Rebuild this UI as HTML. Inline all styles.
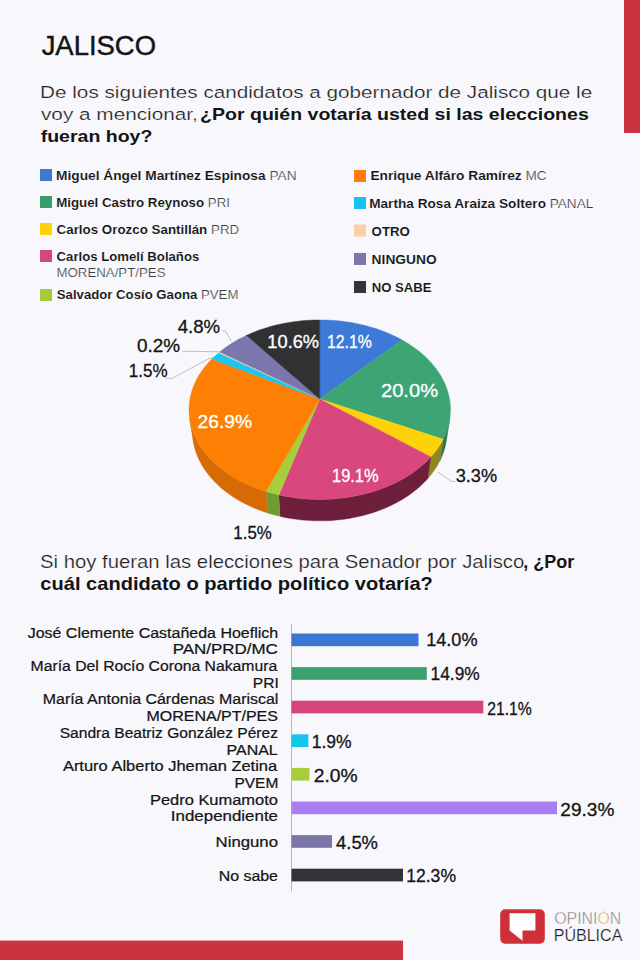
<!DOCTYPE html>
<html><head><meta charset="utf-8"><style>
html,body{margin:0;padding:0;background:#f8f8fc;}
svg{display:block;font-family:"Liberation Sans",sans-serif;}
</style></head><body>
<svg width="640" height="960" viewBox="0 0 640 960">
<rect x="0" y="0" width="640" height="960" fill="#f8f8fc"/>
<rect x="624" y="0" width="16" height="133" fill="#cc3340"/>
<rect x="0" y="940.6" width="403" height="19.4" fill="#cc3340"/>
<rect x="40" y="169" width="12" height="12" fill="#3d78d4"/>
<rect x="40" y="196" width="12" height="12" fill="#3a9d6e"/>
<rect x="40" y="223" width="12" height="12" fill="#fdd10c"/>
<rect x="40" y="250" width="12" height="12" fill="#d6477b"/>
<rect x="40" y="289" width="12" height="12" fill="#a5cb3b"/>
<rect x="354" y="170" width="12" height="12" fill="#fb7c10"/>
<rect x="354" y="197" width="12" height="12" fill="#17c4ee"/>
<rect x="354" y="224.5" width="12" height="12" fill="#fcd0a6"/>
<rect x="354" y="253" width="12" height="12" fill="#7c78ae"/>
<rect x="354" y="281" width="12" height="12" fill="#343436"/>
<path d="M449.72,419.23 L449.27,421.75 L448.72,424.26 L448.07,426.77 L447.31,429.27 L446.44,431.76 L445.46,434.25 L444.38,436.72 L443.19,439.18 L439.92,460.73 L441.08,458.27 L442.15,455.80 L443.11,453.31 L443.96,450.82 L444.72,448.31 L445.36,445.80 L445.91,443.28 L446.35,440.77Z" fill="#2b7350" stroke="#2b7350" stroke-width="0.4"/>
<path d="M443.19,439.18 L441.80,441.80 L440.28,444.39 L438.64,446.96 L436.88,449.50 L434.99,452.01 L432.99,454.49 L430.86,456.93 L427.85,478.48 L429.93,476.04 L431.89,473.57 L433.73,471.06 L435.45,468.52 L437.06,465.95 L438.55,463.35 L439.92,460.73Z" fill="#8f861c" stroke="#8f861c" stroke-width="0.4"/>
<path d="M430.86,456.93 L428.85,459.09 L426.74,461.22 L424.54,463.31 L422.24,465.36 L419.86,467.37 L417.38,469.33 L414.82,471.25 L412.17,473.13 L409.43,474.95 L406.61,476.72 L403.72,478.44 L400.74,480.10 L397.69,481.71 L394.56,483.25 L391.37,484.74 L388.10,486.16 L384.77,487.51 L381.38,488.80 L377.92,490.03 L374.42,491.18 L370.85,492.26 L367.24,493.27 L363.58,494.21 L359.88,495.07 L356.14,495.86 L352.36,496.57 L348.55,497.20 L344.71,497.75 L340.85,498.23 L336.97,498.62 L333.06,498.94 L329.15,499.17 L325.22,499.33 L321.29,499.40 L317.36,499.39 L313.43,499.30 L309.51,499.13 L305.60,498.88 L301.70,498.55 L297.82,498.14 L293.96,497.65 L290.13,497.08 L286.32,496.43 L282.55,495.70 L278.82,494.90 L279.98,516.37 L283.61,517.17 L287.27,517.89 L290.97,518.54 L294.69,519.11 L298.44,519.60 L302.21,520.01 L306.00,520.34 L309.80,520.59 L313.61,520.76 L317.43,520.85 L321.25,520.85 L325.07,520.78 L328.88,520.63 L332.68,520.39 L336.47,520.08 L340.25,519.69 L344.00,519.21 L347.73,518.66 L351.43,518.03 L355.10,517.32 L358.74,516.54 L362.34,515.68 L365.90,514.75 L369.41,513.74 L372.87,512.66 L376.28,511.51 L379.64,510.29 L382.94,509.01 L386.18,507.65 L389.36,506.24 L392.47,504.76 L395.51,503.21 L398.48,501.61 L401.38,499.95 L404.20,498.24 L406.95,496.47 L409.61,494.65 L412.20,492.78 L414.70,490.87 L417.11,488.90 L419.44,486.90 L421.68,484.85 L423.83,482.76 L425.88,480.64 L427.85,478.48Z" fill="#6e1f3c" stroke="#6e1f3c" stroke-width="0.4"/>
<path d="M278.82,494.90 L274.47,493.86 L270.19,492.72 L265.97,491.47 L267.49,512.95 L271.59,514.19 L275.76,515.33 L279.98,516.37Z" fill="#6d9e2d" stroke="#6d9e2d" stroke-width="0.4"/>
<path d="M265.97,491.47 L262.42,490.32 L258.92,489.11 L255.48,487.82 L252.11,486.47 L248.80,485.05 L245.56,483.57 L242.39,482.02 L239.30,480.41 L236.28,478.75 L233.34,477.02 L230.48,475.24 L227.71,473.41 L225.02,471.53 L222.42,469.60 L219.91,467.62 L217.50,465.60 L215.17,463.54 L212.94,461.43 L210.80,459.29 L208.76,457.11 L206.82,454.90 L204.98,452.66 L203.23,450.39 L201.59,448.09 L200.04,445.77 L198.60,443.42 L197.26,441.06 L196.02,438.68 L194.88,436.28 L193.84,433.87 L192.91,431.45 L192.07,429.01 L191.34,426.58 L190.71,424.13 L190.18,421.68 L189.74,419.23 L193.11,440.77 L193.54,443.22 L194.06,445.67 L194.69,448.12 L195.41,450.56 L196.24,452.99 L197.16,455.42 L198.18,457.83 L199.30,460.23 L200.51,462.61 L201.83,464.98 L203.24,467.32 L204.75,469.64 L206.36,471.94 L208.07,474.21 L209.87,476.45 L211.77,478.66 L213.76,480.84 L215.85,482.98 L218.03,485.08 L220.30,487.14 L222.66,489.16 L225.10,491.13 L227.64,493.06 L230.26,494.94 L232.96,496.77 L235.74,498.54 L238.60,500.26 L241.54,501.92 L244.55,503.53 L247.63,505.07 L250.79,506.55 L254.01,507.96 L257.29,509.31 L260.63,510.60 L264.03,511.81 L267.49,512.95Z" fill="#d86a06" stroke="#d86a06" stroke-width="0.4"/>
<path d="M319.73,398.94 L319.73,319.94 L322.77,319.96 L325.81,320.03 L328.84,320.15 L331.87,320.32 L334.90,320.54 L337.91,320.81 L340.92,321.12 L343.92,321.49 L346.91,321.90 L349.88,322.36 L352.85,322.86 L355.79,323.42 L358.72,324.02 L361.63,324.67 L364.52,325.37 L367.38,326.11 L370.23,326.90 L373.05,327.74 L375.84,328.62 L378.61,329.55 L381.35,330.53 L384.06,331.55 L386.73,332.62 L389.38,333.73 L391.98,334.89 L394.56,336.09 L397.09,337.33 L399.58,338.62 L402.04,339.96Z" fill="#3d79d6" stroke="#3d79d6" stroke-width="0.4"/>
<path d="M319.73,398.94 L402.04,339.96 L404.45,341.33 L406.81,342.74 L409.13,344.20 L411.40,345.70 L413.63,347.23 L415.80,348.81 L417.92,350.43 L419.99,352.09 L422.01,353.78 L423.96,355.51 L425.87,357.28 L427.71,359.09 L429.49,360.93 L431.21,362.80 L432.87,364.71 L434.46,366.65 L435.98,368.62 L437.44,370.63 L438.82,372.66 L440.14,374.73 L441.38,376.82 L442.55,378.94 L443.65,381.08 L444.67,383.25 L445.61,385.45 L446.47,387.66 L447.25,389.90 L447.95,392.16 L448.56,394.43 L449.09,396.72 L449.54,399.03 L449.90,401.36 L450.17,403.69 L450.35,406.04 L450.45,408.40 L450.45,410.76 L450.36,413.14 L450.18,415.51 L449.91,417.89 L449.54,420.28 L449.08,422.66 L448.53,425.04 L447.88,427.42 L447.13,429.79 L446.29,432.15 L445.35,434.51 L444.32,436.85 L443.19,439.18Z" fill="#3ca573" stroke="#3ca573" stroke-width="0.4"/>
<path d="M319.73,398.94 L443.19,439.18 L441.80,441.80 L440.28,444.39 L438.64,446.96 L436.88,449.50 L434.99,452.01 L432.99,454.49 L430.86,456.93Z" fill="#fdd20a" stroke="#fdd20a" stroke-width="0.4"/>
<path d="M319.73,398.94 L430.86,456.93 L428.85,459.09 L426.74,461.22 L424.54,463.31 L422.24,465.36 L419.86,467.37 L417.38,469.33 L414.82,471.25 L412.17,473.13 L409.43,474.95 L406.61,476.72 L403.72,478.44 L400.74,480.10 L397.69,481.71 L394.56,483.25 L391.37,484.74 L388.10,486.16 L384.77,487.51 L381.38,488.80 L377.92,490.03 L374.42,491.18 L370.85,492.26 L367.24,493.27 L363.58,494.21 L359.88,495.07 L356.14,495.86 L352.36,496.57 L348.55,497.20 L344.71,497.75 L340.85,498.23 L336.97,498.62 L333.06,498.94 L329.15,499.17 L325.22,499.33 L321.29,499.40 L317.36,499.39 L313.43,499.30 L309.51,499.13 L305.60,498.88 L301.70,498.55 L297.82,498.14 L293.96,497.65 L290.13,497.08 L286.32,496.43 L282.55,495.70 L278.82,494.90Z" fill="#d9487c" stroke="#d9487c" stroke-width="0.4"/>
<path d="M319.73,398.94 L278.82,494.90 L274.47,493.86 L270.19,492.72 L265.97,491.47Z" fill="#a5cf3c" stroke="#a5cf3c" stroke-width="0.4"/>
<path d="M319.73,398.94 L265.97,491.47 L262.48,490.35 L259.05,489.16 L255.67,487.90 L252.35,486.57 L249.10,485.18 L245.91,483.73 L242.80,482.22 L239.75,480.65 L236.77,479.03 L233.88,477.35 L231.06,475.61 L228.32,473.82 L225.66,471.99 L223.09,470.10 L220.60,468.17 L218.20,466.20 L215.89,464.19 L213.67,462.14 L211.54,460.04 L209.50,457.92 L207.56,455.76 L205.71,453.57 L203.96,451.36 L202.30,449.11 L200.74,446.84 L199.28,444.55 L197.91,442.24 L196.64,439.91 L195.47,437.56 L194.40,435.20 L193.43,432.83 L192.55,430.45 L191.77,428.06 L191.09,425.66 L190.51,423.26 L190.02,420.86 L189.63,418.46 L189.33,416.05 L189.13,413.66 L189.02,411.26 L189.00,408.87 L189.08,406.49 L189.25,404.12 L189.51,401.76 L189.86,399.42 L190.29,397.09 L190.81,394.77 L191.42,392.47 L192.12,390.19 L192.89,387.93 L193.75,385.70 L194.69,383.48 L195.71,381.29 L196.81,379.12 L197.98,376.98 L199.23,374.87 L200.55,372.79 L201.95,370.73 L203.41,368.71 L204.95,366.72 L206.55,364.76 L208.22,362.83 L209.95,360.94 L211.75,359.09Z" fill="#fd8005" stroke="#fd8005" stroke-width="0.4"/>
<path d="M319.73,398.94 L211.75,359.09 L213.97,356.92 L216.27,354.81 L218.66,352.76Z" fill="#1cc6ee" stroke="#1cc6ee" stroke-width="0.4"/>
<path d="M319.73,398.94 L218.66,352.76 L219.63,351.95Z" fill="#fdd3ad" stroke="#fdd3ad" stroke-width="0.4"/>
<path d="M319.73,398.94 L219.63,351.95 L221.81,350.22 L224.04,348.53 L226.32,346.89 L228.67,345.29 L231.06,343.73 L233.50,342.22 L236.00,340.76 L238.54,339.34 L241.13,337.97 L243.76,336.65 L246.43,335.37Z" fill="#7977ab" stroke="#7977ab" stroke-width="0.4"/>
<path d="M319.73,398.94 L246.43,335.37 L249.07,334.18 L251.74,333.03 L254.45,331.93 L257.19,330.87 L259.96,329.87 L262.76,328.91 L265.59,327.99 L268.45,327.13 L271.34,326.31 L274.24,325.54 L277.18,324.82 L280.13,324.15 L283.10,323.53 L286.09,322.96 L289.09,322.44 L292.12,321.96 L295.15,321.54 L298.20,321.16 L301.25,320.84 L304.32,320.56 L307.39,320.34 L310.47,320.16 L313.56,320.04 L316.64,319.96 L319.73,319.94Z" fill="#313134" stroke="#313134" stroke-width="0.4"/>
<g fill="none" stroke="#b8b8b8" stroke-width="0.9"><polyline points="222.5,331 225.5,331 231.5,341.5"/><polyline points="182.3,351.2 219.5,351.8"/><polyline points="165,378 172,378.5 208,359 213,357.5"/><polyline points="438,472 451.25,481.4 455,481.4"/></g>
<rect x="291" y="623.75" width="1" height="267.5" fill="#b8b8b8"/>
<rect x="291.5" y="633.50" width="127.00" height="12.7" fill="#3b76d2"/>
<rect x="291.5" y="667.10" width="135.30" height="12.7" fill="#3aa06e"/>
<rect x="291.5" y="700.70" width="191.80" height="12.7" fill="#d6457a"/>
<rect x="291.5" y="734.30" width="16.90" height="12.7" fill="#15c6ec"/>
<rect x="291.5" y="767.90" width="18.00" height="12.7" fill="#a8cc3c"/>
<rect x="291.5" y="801.50" width="265.50" height="12.7" fill="#a87ef0"/>
<rect x="291.5" y="835.10" width="40.50" height="12.7" fill="#7a77a8"/>
<rect x="291.5" y="868.70" width="111.50" height="12.7" fill="#333336"/>
<rect x="500.2" y="909.3" width="44.6" height="34.4" rx="5" fill="#cf2f36"/>
<path d="M509.6,913.2 L535.4,913.2 L535.4,930.4 L522.5,930.4 L522.5,940.7 L509.6,930.4 Z" fill="#ffffff"/>
<text x="41.67" y="54.80" font-size="27.02" font-weight="normal" fill="#141414" stroke="#141414" stroke-width="0.45" textLength="114.32" lengthAdjust="spacingAndGlyphs" xml:space="preserve">JALISCO</text>
<text x="40.08" y="97.50" font-size="17.07" font-weight="normal" fill="#1c1c1c" stroke="#f8f8fc" stroke-width="0.22" textLength="552.16" lengthAdjust="spacingAndGlyphs" xml:space="preserve">De los siguientes candidatos a gobernador de Jalisco que le</text>
<text x="41.00" y="120.00" font-size="17.07" font-weight="normal" fill="#1c1c1c" stroke="#f8f8fc" stroke-width="0.22" textLength="156.85" lengthAdjust="spacingAndGlyphs" xml:space="preserve">voy a mencionar,</text>
<text x="200.08" y="120.00" font-size="17.07" font-weight="bold" fill="#141414" textLength="388.71" lengthAdjust="spacingAndGlyphs" xml:space="preserve">¿Por quién votaría usted si las elecciones</text>
<text x="40.70" y="141.60" font-size="17.07" font-weight="bold" fill="#141414" textLength="111.65" lengthAdjust="spacingAndGlyphs" xml:space="preserve">fueran hoy?</text>
<text x="56.14" y="180.00" font-size="12.66" font-weight="bold" fill="#141414" stroke="#f8f8fc" stroke-width="0.1" textLength="209.49" lengthAdjust="spacingAndGlyphs" xml:space="preserve">Miguel Ángel Martínez Espinosa</text>
<text x="265.64" y="180.00" font-size="12.66" font-weight="normal" fill="#3c3c3c" stroke="#f8f8fc" stroke-width="0.2" textLength="30.98" lengthAdjust="spacingAndGlyphs" xml:space="preserve"> PAN</text>
<text x="56.17" y="207.00" font-size="12.66" font-weight="bold" fill="#141414" stroke="#f8f8fc" stroke-width="0.1" textLength="147.90" lengthAdjust="spacingAndGlyphs" xml:space="preserve">Miguel Castro Reynoso</text>
<text x="204.07" y="207.00" font-size="12.66" font-weight="normal" fill="#3c3c3c" stroke="#f8f8fc" stroke-width="0.2" textLength="25.88" lengthAdjust="spacingAndGlyphs" xml:space="preserve"> PRI</text>
<text x="56.58" y="234.00" font-size="12.66" font-weight="bold" fill="#141414" stroke="#f8f8fc" stroke-width="0.1" textLength="150.71" lengthAdjust="spacingAndGlyphs" xml:space="preserve">Carlos Orozco Santillán</text>
<text x="207.29" y="234.00" font-size="12.66" font-weight="normal" fill="#3c3c3c" stroke="#f8f8fc" stroke-width="0.2" textLength="31.92" lengthAdjust="spacingAndGlyphs" xml:space="preserve"> PRD</text>
<text x="56.59" y="260.75" font-size="12.66" font-weight="bold" fill="#141414" stroke="#f8f8fc" stroke-width="0.1" textLength="142.70" lengthAdjust="spacingAndGlyphs" xml:space="preserve">Carlos Lomelí Bolaños</text>
<text x="56.46" y="276.75" font-size="12.66" font-weight="normal" fill="#3c3c3c" stroke="#f8f8fc" stroke-width="0.2" textLength="109.09" lengthAdjust="spacingAndGlyphs" xml:space="preserve">MORENA/PT/PES</text>
<text x="56.79" y="298.75" font-size="12.66" font-weight="bold" fill="#141414" stroke="#f8f8fc" stroke-width="0.1" textLength="140.59" lengthAdjust="spacingAndGlyphs" xml:space="preserve">Salvador Cosío Gaona</text>
<text x="197.38" y="298.75" font-size="12.66" font-weight="normal" fill="#3c3c3c" stroke="#f8f8fc" stroke-width="0.2" textLength="41.00" lengthAdjust="spacingAndGlyphs" xml:space="preserve"> PVEM</text>
<text x="370.40" y="180.00" font-size="12.66" font-weight="bold" fill="#141414" stroke="#f8f8fc" stroke-width="0.1" textLength="151.26" lengthAdjust="spacingAndGlyphs" xml:space="preserve">Enrique Alfáro Ramírez</text>
<text x="521.65" y="180.00" font-size="12.66" font-weight="normal" fill="#3c3c3c" stroke="#f8f8fc" stroke-width="0.2" textLength="25.07" lengthAdjust="spacingAndGlyphs" xml:space="preserve"> MC</text>
<text x="369.15" y="207.50" font-size="12.66" font-weight="bold" fill="#141414" stroke="#f8f8fc" stroke-width="0.1" textLength="176.83" lengthAdjust="spacingAndGlyphs" xml:space="preserve">Martha Rosa Araiza Soltero</text>
<text x="545.98" y="207.50" font-size="12.66" font-weight="normal" fill="#3c3c3c" stroke="#f8f8fc" stroke-width="0.2" textLength="47.36" lengthAdjust="spacingAndGlyphs" xml:space="preserve"> PANAL</text>
<text x="371.59" y="236.00" font-size="12.66" font-weight="bold" fill="#141414" stroke="#f8f8fc" stroke-width="0.1" textLength="38.28" lengthAdjust="spacingAndGlyphs" xml:space="preserve">OTRO</text>
<text x="371.64" y="263.75" font-size="12.66" font-weight="bold" fill="#141414" stroke="#f8f8fc" stroke-width="0.1" textLength="64.99" lengthAdjust="spacingAndGlyphs" xml:space="preserve">NINGUNO</text>
<text x="371.68" y="291.75" font-size="12.66" font-weight="bold" fill="#141414" stroke="#f8f8fc" stroke-width="0.1" textLength="59.92" lengthAdjust="spacingAndGlyphs" xml:space="preserve">NO SABE</text>
<text x="177.71" y="333.00" font-size="17.49" font-weight="normal" fill="#141414" stroke="#141414" stroke-width="0.3" textLength="42.34" lengthAdjust="spacingAndGlyphs" xml:space="preserve">4.8%</text>
<text x="136.91" y="351.60" font-size="17.49" font-weight="normal" fill="#141414" stroke="#141414" stroke-width="0.3" textLength="43.16" lengthAdjust="spacingAndGlyphs" xml:space="preserve">0.2%</text>
<text x="128.74" y="376.70" font-size="17.49" font-weight="normal" fill="#141414" stroke="#141414" stroke-width="0.3" textLength="38.77" lengthAdjust="spacingAndGlyphs" xml:space="preserve">1.5%</text>
<text x="455.68" y="481.90" font-size="17.49" font-weight="normal" fill="#141414" stroke="#141414" stroke-width="0.3" textLength="41.46" lengthAdjust="spacingAndGlyphs" xml:space="preserve">3.3%</text>
<text x="233.35" y="538.50" font-size="17.49" font-weight="normal" fill="#141414" stroke="#141414" stroke-width="0.3" textLength="38.40" lengthAdjust="spacingAndGlyphs" xml:space="preserve">1.5%</text>
<text x="267.36" y="348.40" font-size="17.49" font-weight="normal" fill="#ffffff" stroke="#ffffff" stroke-width="0.3" textLength="51.68" lengthAdjust="spacingAndGlyphs" xml:space="preserve">10.6%</text>
<text x="327.01" y="348.40" font-size="17.49" font-weight="normal" fill="#ffffff" stroke="#ffffff" stroke-width="0.3" textLength="44.76" lengthAdjust="spacingAndGlyphs" xml:space="preserve">12.1%</text>
<text x="380.96" y="396.90" font-size="17.49" font-weight="normal" fill="#ffffff" stroke="#ffffff" stroke-width="0.3" textLength="57.14" lengthAdjust="spacingAndGlyphs" xml:space="preserve">20.0%</text>
<text x="197.60" y="427.50" font-size="17.49" font-weight="normal" fill="#ffffff" stroke="#ffffff" stroke-width="0.3" textLength="54.47" lengthAdjust="spacingAndGlyphs" xml:space="preserve">26.9%</text>
<text x="332.07" y="481.50" font-size="17.49" font-weight="normal" fill="#ffffff" stroke="#ffffff" stroke-width="0.3" textLength="46.51" lengthAdjust="spacingAndGlyphs" xml:space="preserve">19.1%</text>
<text x="39.97" y="567.80" font-size="17.49" font-weight="normal" fill="#1c1c1c" stroke="#f8f8fc" stroke-width="0.22" textLength="484.26" lengthAdjust="spacingAndGlyphs" xml:space="preserve">Si hoy fueran las elecciones para Senador por Jalisco</text>
<text x="523.38" y="567.80" font-size="17.49" font-weight="bold" fill="#141414" textLength="50.88" lengthAdjust="spacingAndGlyphs" xml:space="preserve">, ¿Por</text>
<text x="40.37" y="589.90" font-size="17.49" font-weight="bold" fill="#141414" textLength="392.50" lengthAdjust="spacingAndGlyphs" xml:space="preserve">cuál candidato o partido político votaría?</text>
<text x="27.65" y="637.50" font-size="13.94" font-weight="normal" fill="#141414" stroke="#141414" stroke-width="0.22" textLength="250.55" lengthAdjust="spacingAndGlyphs" xml:space="preserve">José Clemente Castañeda Hoeflich</text>
<text x="172.68" y="654.22" font-size="13.94" font-weight="normal" fill="#141414" stroke="#141414" stroke-width="0.22" textLength="105.21" lengthAdjust="spacingAndGlyphs" xml:space="preserve">PAN/PRD/MC</text>
<text x="30.57" y="670.94" font-size="13.94" font-weight="normal" fill="#141414" stroke="#141414" stroke-width="0.22" textLength="246.63" lengthAdjust="spacingAndGlyphs" xml:space="preserve">María Del Rocío Corona Nakamura</text>
<text x="252.79" y="687.66" font-size="13.94" font-weight="normal" fill="#141414" stroke="#141414" stroke-width="0.22" textLength="25.92" lengthAdjust="spacingAndGlyphs" xml:space="preserve">PRI</text>
<text x="42.76" y="704.38" font-size="13.94" font-weight="normal" fill="#141414" stroke="#141414" stroke-width="0.22" textLength="235.59" lengthAdjust="spacingAndGlyphs" xml:space="preserve">María Antonia Cárdenas Mariscal</text>
<text x="146.45" y="721.10" font-size="13.94" font-weight="normal" fill="#141414" stroke="#141414" stroke-width="0.22" textLength="131.52" lengthAdjust="spacingAndGlyphs" xml:space="preserve">MORENA/PT/PES</text>
<text x="59.71" y="737.82" font-size="13.94" font-weight="normal" fill="#141414" stroke="#141414" stroke-width="0.22" textLength="218.32" lengthAdjust="spacingAndGlyphs" xml:space="preserve">Sandra Beatriz González Pérez</text>
<text x="226.55" y="754.54" font-size="13.94" font-weight="normal" fill="#141414" stroke="#141414" stroke-width="0.22" textLength="51.14" lengthAdjust="spacingAndGlyphs" xml:space="preserve">PANAL</text>
<text x="62.90" y="771.26" font-size="13.94" font-weight="normal" fill="#141414" stroke="#141414" stroke-width="0.22" textLength="214.30" lengthAdjust="spacingAndGlyphs" xml:space="preserve">Arturo Alberto Jheman Zetina</text>
<text x="234.49" y="787.98" font-size="13.94" font-weight="normal" fill="#141414" stroke="#141414" stroke-width="0.22" textLength="43.85" lengthAdjust="spacingAndGlyphs" xml:space="preserve">PVEM</text>
<text x="149.91" y="804.70" font-size="13.94" font-weight="normal" fill="#141414" stroke="#141414" stroke-width="0.22" textLength="128.05" lengthAdjust="spacingAndGlyphs" xml:space="preserve">Pedro Kumamoto</text>
<text x="170.88" y="821.42" font-size="13.94" font-weight="normal" fill="#141414" stroke="#141414" stroke-width="0.22" textLength="107.10" lengthAdjust="spacingAndGlyphs" xml:space="preserve">Independiente</text>
<text x="215.59" y="846.90" font-size="13.94" font-weight="normal" fill="#141414" stroke="#141414" stroke-width="0.22" textLength="62.39" lengthAdjust="spacingAndGlyphs" xml:space="preserve">Ninguno</text>
<text x="218.66" y="880.50" font-size="13.94" font-weight="normal" fill="#141414" stroke="#141414" stroke-width="0.22" textLength="59.29" lengthAdjust="spacingAndGlyphs" xml:space="preserve">No sabe</text>
<text x="426.17" y="646.30" font-size="17.64" font-weight="normal" fill="#141414" stroke="#141414" stroke-width="0.3" textLength="51.37" lengthAdjust="spacingAndGlyphs" xml:space="preserve">14.0%</text>
<text x="430.62" y="680.00" font-size="17.64" font-weight="normal" fill="#141414" stroke="#141414" stroke-width="0.3" textLength="49.10" lengthAdjust="spacingAndGlyphs" xml:space="preserve">14.9%</text>
<text x="487.26" y="714.70" font-size="17.64" font-weight="normal" fill="#141414" stroke="#141414" stroke-width="0.3" textLength="44.50" lengthAdjust="spacingAndGlyphs" xml:space="preserve">21.1%</text>
<text x="311.71" y="748.00" font-size="17.64" font-weight="normal" fill="#141414" stroke="#141414" stroke-width="0.3" textLength="39.92" lengthAdjust="spacingAndGlyphs" xml:space="preserve">1.9%</text>
<text x="313.70" y="781.90" font-size="17.64" font-weight="normal" fill="#141414" stroke="#141414" stroke-width="0.3" textLength="43.88" lengthAdjust="spacingAndGlyphs" xml:space="preserve">2.0%</text>
<text x="560.36" y="815.50" font-size="17.64" font-weight="normal" fill="#141414" stroke="#141414" stroke-width="0.3" textLength="53.96" lengthAdjust="spacingAndGlyphs" xml:space="preserve">29.3%</text>
<text x="336.11" y="849.30" font-size="17.64" font-weight="normal" fill="#141414" stroke="#141414" stroke-width="0.3" textLength="41.83" lengthAdjust="spacingAndGlyphs" xml:space="preserve">4.5%</text>
<text x="406.20" y="882.00" font-size="17.64" font-weight="normal" fill="#141414" stroke="#141414" stroke-width="0.3" textLength="49.82" lengthAdjust="spacingAndGlyphs" xml:space="preserve">12.3%</text>
<text x="554.26" y="924.30" font-size="16.64" font-weight="normal" fill="#7a7a7a" stroke="#f8f8fc" stroke-width="0.45" textLength="43.22" lengthAdjust="spacingAndGlyphs" xml:space="preserve">OPINI</text>
<text x="597.48" y="924.30" font-size="16.64" font-weight="normal" fill="#ef9a50" stroke="#f8f8fc" stroke-width="0.45" textLength="12.35" lengthAdjust="spacingAndGlyphs" xml:space="preserve">Ó</text>
<text x="609.83" y="924.30" font-size="16.64" font-weight="normal" fill="#7a7a7a" stroke="#f8f8fc" stroke-width="0.45" textLength="11.47" lengthAdjust="spacingAndGlyphs" xml:space="preserve">N</text>
<text x="553.75" y="941.40" font-size="15.93" font-weight="normal" fill="#1e1e1e" stroke="#f8f8fc" stroke-width="0.2" textLength="68.57" lengthAdjust="spacingAndGlyphs" xml:space="preserve">PÚBLICA</text>
</svg>
</body></html>
